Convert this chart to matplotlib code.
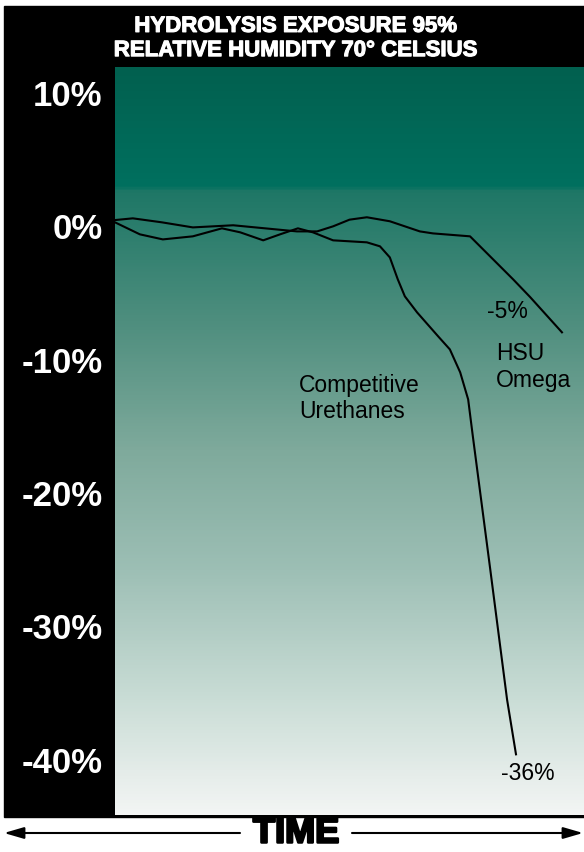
import numpy as np
import matplotlib
matplotlib.use("Agg")
import matplotlib.pyplot as plt
import matplotlib.patheffects as pe
from matplotlib.patches import Rectangle
from matplotlib.colors import LinearSegmentedColormap

plt.rcParams['font.family'] = ['Liberation Sans', 'DejaVu Sans']

# data (x = time, 0..100; y = change in %)
omega_x = [0, 3.8, 10.0, 16.6, 25.2, 32.0, 38.8, 43.1, 46.5, 50.0, 53.7, 58.6, 65.0, 67.8, 75.7, 84.9, 88.5, 95.3]
omega_y = [0.47, 0.6, 0.3, -0.08, 0.08, -0.15, -0.38, -0.38, 0.0, 0.5, 0.68, 0.38, -0.38, -0.53, -0.75, -3.98, -5.3, -7.95]

comp_x = [0, 5.3, 10.2, 16.6, 22.8, 26.7, 31.6, 35.2, 39.0, 42.2, 46.5, 53.7, 56.5, 58.6,
          60.3, 61.8, 64.4, 68.9, 71.4, 73.6, 75.3, 76.3, 80.0, 83.6, 85.5]
comp_y = [0.3, -0.6, -0.98, -0.75, -0.15, -0.45, -1.05, -0.6, -0.15, -0.45, -1.05, -1.2, -1.5, -2.33,
          -3.98, -5.25, -6.45, -8.25, -9.23, -10.95, -12.98, -15.75, -25.7, -35.5, -39.6]

yticks = [10, 0, -10, -20, -30, -40]
ytick_labels = ["10%", "0%", "-10%", "-20%", "-30%", "-40%"]

W, H = 584, 852
fig = plt.figure(figsize=(W / 100, H / 100), dpi=100, facecolor="white")

def fx(px):
    return px / W

def fy(py):
    return 1 - py / H

# black frame behind plot
fig.patches.append(Rectangle((fx(4), fy(817)), fx(584) - fx(4), fy(6) - fy(817),
                             transform=fig.transFigure, color="black", zorder=-5))

ax = fig.add_axes([fx(115), fy(815), fx(584) - fx(115), fy(67) - fy(815)])
ymin, ymax = -44.15, 11.95
ax.set_xlim(0, 100)
ax.set_ylim(ymin, ymax)

# background gradient
stops = [(0.0, "#02604F"), (0.158, "#00705F"), (0.165, "#1E7766"), (0.339, "#4E8E7E"),
         (0.513, "#7FAA9C"), (0.674, "#9DBFB5"), (0.848, "#CADDD6"), (1.0, "#F3F5F4")]
cmap = LinearSegmentedColormap.from_list("bg", stops)
grad = np.linspace(0, 1, 500).reshape(-1, 1)
ax.imshow(grad, cmap=cmap, aspect="auto", extent=[0, 100, ymin, ymax], origin="upper", zorder=0)

ax.plot(omega_x, omega_y, color="black", lw=1.5, zorder=2, solid_joinstyle="round")
ax.plot(comp_x, comp_y, color="black", lw=1.5, zorder=2, solid_joinstyle="round")

ax.set_yticks(yticks)
ax.set_yticklabels(ytick_labels, color="white", fontsize=25, fontweight="bold")
ax.tick_params(axis="y", length=0, pad=9)
ax.set_xticks([])
for s in ax.spines.values():
    s.set_visible(False)

ax.text(39.3, -12.9, "Competitive\nUrethanes", fontsize=16.5, va="center", ha="left", linespacing=1.2)
ax.text(79.4, -6.35, "-5%", fontsize=16.5, va="center", ha="left")
ax.text(81.2, -10.55, "HSU\nOmega", fontsize=16.5, va="center", ha="left", linespacing=1.2)
ax.text(82.4, -41.0, "-36%", fontsize=16.5, va="center", ha="left")

fig.text(fx(296), fy(38.5), "HYDROLYSIS EXPOSURE 95%\nRELATIVE HUMIDITY 70° CELSIUS",
         color="white", fontsize=16, fontweight="bold", ha="center", va="center", linespacing=1.2,
         path_effects=[pe.withStroke(linewidth=0.8, foreground="white")])

fig.text(fx(296), fy(833), "TIME", fontsize=26, fontweight="bold", ha="center", va="center",
         path_effects=[pe.withStroke(linewidth=1.8, foreground="black")])
ax.annotate("", xy=(fx(4), fy(833)), xytext=(fx(240), fy(833)), xycoords="figure fraction",
            arrowprops=dict(arrowstyle="-|>,head_length=1.2,head_width=0.35", color="black", lw=1.5,
                            shrinkA=0, shrinkB=0))
ax.annotate("", xy=(fx(583), fy(833)), xytext=(fx(352), fy(833)), xycoords="figure fraction",
            arrowprops=dict(arrowstyle="-|>,head_length=1.2,head_width=0.35", color="black", lw=1.5,
                            shrinkA=0, shrinkB=0))

fig.savefig("out.png", dpi=100, facecolor="white")
